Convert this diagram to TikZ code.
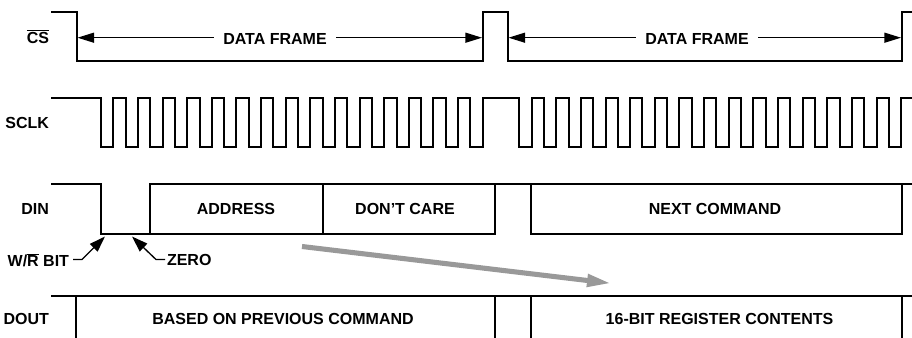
\documentclass[tikz,border=0pt]{standalone}
\usepackage{fontspec}
\setmainfont{Liberation Sans}
\usetikzlibrary{arrows.meta}

\begin{document}
\begin{tikzpicture}[x=0.75pt,y=-0.75pt,line width=1.5pt,>={Triangle[length=12.5pt,width=7.5pt]},
  lab/.style={font=\bfseries\fontsize{12}{14}\selectfont,inner sep=0pt},
  dim/.style={line width=1pt,<-},
  note/.style={line width=1pt,->,>={Triangle[length=12pt,width=8pt]}}]
\useasboundingbox (0,0) rectangle (912,338);
% 信号名
\node[lab,anchor=east] (cs) at (50,36.5) {$\overline{\mbox{CS}}$};
\node[lab,anchor=east] (sclk) at (50,123) {SCLK};
\node[lab,anchor=east] (din) at (50,209) {DIN};
\node[lab,anchor=east] (dout) at (50,319) {DOUT};
% CS 波形
\draw (51,12.5) -- (76.5,12.5) -- (76.5,61.5) -- (482.7,61.5) -- (482.7,12.5) -- (507.7,12.5)
  -- (507.7,61.5) -- (901.7,61.5) -- (901.7,12.5) -- (912,12.5);
% 数据帧（双向箭头）
\node[lab] (frameA) at (275,39) {DATA FRAME};
\node[lab] (frameB) at (697,39) {DATA FRAME};
\coordinate (frameAl) at (77.5,37.7);
\coordinate (frameAr) at (482,37.7);
\coordinate (frameBl) at (508.5,37.7);
\coordinate (frameBr) at (901,37.7);
\draw[dim] (frameAl) -- ([xshift=-6.5pt]frameA.west |- frameAl);
\draw[dim] (frameAr) -- ([xshift=6.5pt]frameA.east |- frameAr);
\draw[dim] (frameBl) -- ([xshift=-6.5pt]frameB.west |- frameBl);
\draw[dim] (frameBr) -- ([xshift=6.5pt]frameB.east |- frameBr);
% SCLK 波形
\draw (51,98.5) foreach \k in {0,...,15} {
    -- ({101+\k*24.63},98.5) -- ({101+\k*24.63},147.5) -- ({113.3+\k*24.63},147.5) -- ({113.3+\k*24.63},98.5)}
  foreach \k in {0,...,15} {
    -- ({519.3+\k*24.63},98.5) -- ({519.3+\k*24.63},147.5) -- ({531.7+\k*24.63},147.5) -- ({531.7+\k*24.63},98.5)}
  -- (912,98.5);
% DIN 波形
\draw (51,184.5) -- (101,184.5) -- (101,233.5) -- (150,233.5) -- (150,184.5) -- (912,184.5);
\draw (150,233.5) -- (495,233.5) -- (495,184.5);
\draw (322.5,184.5) -- (322.5,233.5);
\draw (531,184.5) -- (531,233.5) -- (901.7,233.5) -- (901.7,184.5);
\node[lab] (addr) at (236,209) {ADDRESS};
\node[lab] (care) at (405,209) {DON’T CARE};
\node[lab] (next) at (715,209) {NEXT COMMAND};
% 标注
\node[lab,anchor=east] (wr) at (70,260) {W/$\overline{\mbox{R}}$ BIT};
\node[lab,anchor=west] (zero) at (166,260) {ZERO};
\coordinate (wrtip) at (105,236.5);
\coordinate (zerotip) at (132,236.5);
\draw[note] (wr.east) ++(3,-0.5) -- ++(9,0) -- (wrtip);
\draw[note] (zero.west) ++(-1,-0.5) -- ++(-9,0) -- (zerotip);
% 灰色箭头
\coordinate (readA) at (302,246.5);
\coordinate (readB) at (611,283.3);
\draw[line width=3.8pt,color=black!40,-{Triangle[length=18pt,width=9pt]}] (readA) -- (readB);
% DOUT 波形
\draw (51,295.7) -- (912,295.7);
\draw (75.5,295.7) -- (75.5,338);
\draw (495,295.7) -- (495,338);
\draw (531,295.7) -- (531,338);
\draw (901.7,295.7) -- (901.7,338);
\node[lab] (prev) at (283,319) {BASED ON PREVIOUS COMMAND};
\node[lab] (reg) at (719.5,319) {16-BIT REGISTER CONTENTS};
\end{tikzpicture}
\end{document}
